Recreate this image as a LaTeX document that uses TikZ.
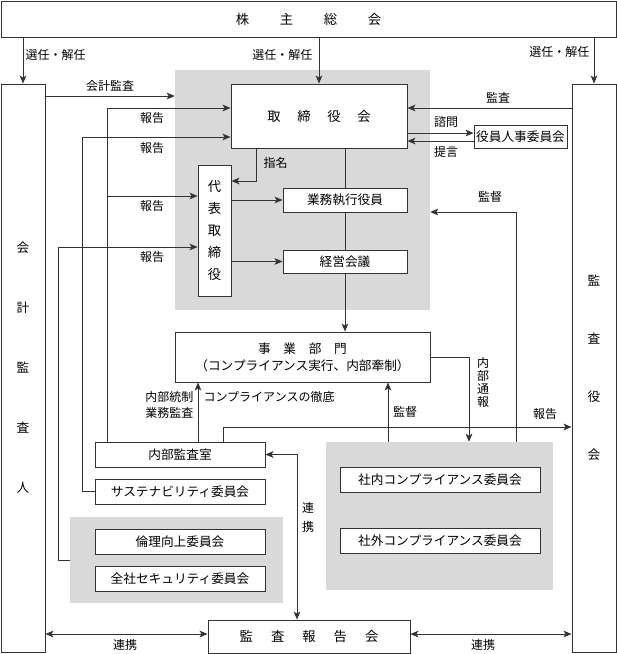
\documentclass[tikz,border=0pt]{standalone}
\usepackage{fontspec}
\newfontfamily\jpfont{Noto Sans CJK JP}
\usetikzlibrary{arrows.meta}
\newlength\pxu
\setlength\pxu{0.75pt}
\definecolor{linegray}{HTML}{333333}
\definecolor{areagray}{HTML}{D9D9D9}

\begin{document}
\begin{tikzpicture}[x=0.75pt, y=-0.75pt,
    font=\jpfont\fontsize{9}{11}\selectfont,
    box/.style={draw=linegray, line width=0.7pt, fill=white, inner sep=0pt,
      font=\jpfont\fontsize{9.5}{11}\selectfont},
    area/.style={fill=areagray, inner sep=0pt},
    arr/.style={-{Stealth[length=6pt, width=5pt, inset=1.5pt]}, draw=linegray, line width=0.6pt},
    twoway/.style={{Stealth[length=6pt, width=5pt, inset=1.5pt]}-{Stealth[length=6pt, width=5pt, inset=1.5pt]}, draw=linegray, line width=0.6pt},
    plain/.style={draw=linegray, line width=0.6pt},
    lbl/.style={inner sep=1pt}]
    \useasboundingbox (0,0) rectangle (617,654);

    % Draw the grey areas
    \node[area, minimum width=255\pxu, minimum height=240\pxu] (execarea) at (302.5,190) {};
    \node[area, minimum width=213\pxu, minimum height=86\pxu] (ethicsarea) at (176.5,560) {};
    \node[area, minimum width=227\pxu, minimum height=148\pxu] (comparea) at (439.5,516) {};

    % Draw the boxes
    \node[box, minimum width=615\pxu, minimum height=36\pxu, font=\jpfont\fontsize{10}{12}\selectfont] (meeting) at (308.5,19)
      {株\hspace{2.3em}主\hspace{2.3em}総\hspace{2.3em}会};
    \node[box, minimum width=44\pxu, minimum height=568\pxu, align=center, font=\jpfont\fontsize{9.5}{45}\selectfont] (auditor) at (23,368)
      {会\\計\\監\\査\\人};
    \node[box, minimum width=44\pxu, minimum height=568\pxu, align=center, font=\jpfont\fontsize{9.5}{43.5}\selectfont] (auditboard) at (594,368)
      {監\\査\\役\\会};
    \node[box, minimum width=176\pxu, minimum height=64\pxu, font=\jpfont\fontsize{10}{12}\selectfont] (board) at (319,116)
      {取\hspace{1.25em}締\hspace{1.25em}役\hspace{1.25em}会};
    \node[box, minimum width=33\pxu, minimum height=131\pxu, align=center, font=\jpfont\fontsize{10}{16.5}\selectfont] (ceo) at (214.5,230.5)
      {代\\表\\取\\締\\役};
    \node[box, minimum width=124\pxu, minimum height=24\pxu] (officers) at (345,200) {業務執行役員};
    \node[box, minimum width=124\pxu, minimum height=23\pxu] (mgmt) at (345,261.5) {経営会議};
    \node[box, minimum width=93\pxu, minimum height=23\pxu] (personnel) at (520.5,136.5) {役員人事委員会};
    \node[box, minimum width=255\pxu, minimum height=50\pxu, align=center, font=\jpfont\fontsize{9.5}{12.75}\selectfont] (division) at (302.5,357)
      {事\hspace{1em}業\hspace{1em}部\hspace{1em}門\\（コンプライアンス実行、内部牽制）};
    \node[box, minimum width=170\pxu, minimum height=25\pxu] (internal) at (180,454.5) {内部監査室};
    \node[box, minimum width=170\pxu, minimum height=25\pxu] (sustain) at (180,491.5) {サステナビリティ委員会};
    \node[box, minimum width=170\pxu, minimum height=25\pxu] (ethics) at (180,541.5) {倫理向上委員会};
    \node[box, minimum width=170\pxu, minimum height=25\pxu] (security) at (180,578.5) {全社セキュリティ委員会};
    \node[box, minimum width=200\pxu, minimum height=25\pxu] (incomp) at (440,479.5) {社内コンプライアンス委員会};
    \node[box, minimum width=200\pxu, minimum height=25\pxu] (excomp) at (440,540.5) {社外コンプライアンス委員会};
    \node[box, minimum width=202\pxu, minimum height=33\pxu, font=\jpfont\fontsize{10}{12}\selectfont] (report) at (309,636.5)
      {監\hspace{1.35em}査\hspace{1.35em}報\hspace{1.35em}告\hspace{1.35em}会};

    % Draw the elections from the shareholders' meeting
    \draw[arr] (meeting.south -| auditor.north) -- (auditor.north);
    \draw[arr] (meeting.south -| board.north) -- (board.north);
    \draw[arr] (meeting.south -| auditboard.north) -- (auditboard.north);
    \node[lbl, right] (elect1) at (24,55) {選任・解任};
    \node[lbl, left] (elect2) at (314,55) {選任・解任};
    \node[lbl, left] (elect3) at (591,52) {選任・解任};

    % Draw the audit arrows
    \draw[arr] (auditor.east |- 0,96) -- (execarea.west |- 0,96);
    \node[lbl] (audit1) at (110,86) {会計監査};
    \draw[arr] (auditboard.west |- 0,108) -- (board.east |- 0,108);
    \node[lbl] (audit2) at (498,98) {監査};

    % Draw the personnel committee arrows
    \draw[arr] (board.east |- 0,133) -- (personnel.west |- 0,133);
    \draw[arr] (personnel.west |- 0,141) -- (board.east |- 0,141);
    \node[lbl] (consult) at (446,122) {諮問};
    \node[lbl] (propose) at (446,152) {提言};

    % Draw the reports to the board and the CEO
    \draw[arr] (internal.north -| 107,0) |- (board.west |- 0,108);
    \draw[arr] (internal.north -| 107,0) |- (ceo.west |- 0,196);
    \draw[arr] (sustain.west) -| (82,137) -- (board.west |- 0,137);
    \draw[arr] (ethicsarea.west |- 0,560) -| (58,247) -- (ceo.west |- 0,247);
    \node[lbl] (report1) at (152,118) {報告};
    \node[lbl] (report2) at (152,148) {報告};
    \node[lbl] (report3) at (152,206) {報告};
    \node[lbl] (report4) at (152,257) {報告};

    % Draw the nomination
    \draw[arr] (board.south -| 256,0) |- (ceo.east |- 0,181);
    \node[lbl, right] (nominate) at (262,163) {指名};

    % Draw the executive line
    \draw[plain] (board.south -| officers.north) -- (officers.north);
    \draw[plain] (officers.south) -- (mgmt.north);
    \draw[arr] (mgmt.south) -- (mgmt.south |- division.north);
    \draw[arr] (ceo.east |- officers.west) -- (officers.west);
    \draw[arr] (ceo.east |- mgmt.west) -- (mgmt.west);

    % Draw the supervision and the whistleblowing
    \draw[arr] (comparea.north -| 516,0) |- (execarea.east |- 0,212);
    \node[lbl] (super1) at (490,197) {監督};
    \draw[arr] (comparea.north -| 388,0) -- (division.south -| 388,0);
    \node[lbl] (super2) at (405,412) {監督};
    \draw[arr] (division.east |- 0,357) -| (comparea.north -| 469,0);
    \node[lbl, align=center, font=\jpfont\fontsize{9}{9.75}\selectfont] (whistle) at (483,382) {内\\部\\通\\報};

    % Draw the internal audit lines
    \draw[arr] (internal.north -| 198,0) -- (division.south -| 198,0);
    \node[lbl, left, align=right, font=\jpfont\fontsize{9}{12}\selectfont] (control) at (195,405) {内部統制\\業務監査};
    \node[lbl, right] (thorough) at (202,397) {コンプライアンスの徹底};
    \draw[arr] (internal.north -| 223,0) |- (auditboard.west |- 0,427);
    \node[lbl] (report5) at (545,414) {報告};

    % Draw the cooperation arrows
    \draw[twoway] (internal.east) -| (report.north -| 297,0);
    \node[lbl, align=center, font=\jpfont\fontsize{9}{14.5}\selectfont] (coop1) at (308,517.5) {連\\携};
    \draw[twoway] (auditor.east |- 0,634) -- (report.west |- 0,634);
    \node[lbl] (coop2) at (125,645) {連携};
    \draw[twoway] (report.east |- 0,634) -- (auditboard.west |- 0,634);
    \node[lbl] (coop3) at (483,645) {連携};
\end{tikzpicture}
\end{document}
